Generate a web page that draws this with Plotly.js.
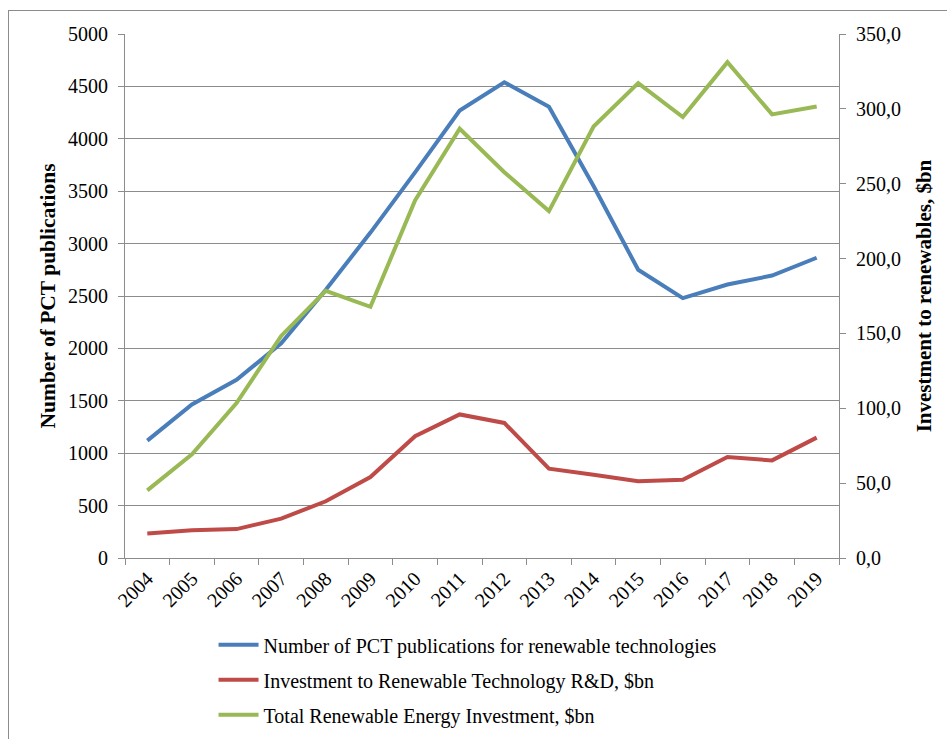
<!DOCTYPE html>
<html><head><meta charset="utf-8">
<script src="https://cdn.plot.ly/plotly-3.0.1.min.js"></script>
<style>
html,body{margin:0;padding:0;overflow:hidden;background:#fff}
#chart{position:absolute;left:0;top:0;width:947px;height:739px}
#frame{position:absolute;left:8px;top:10px;width:1200px;height:1200px;border:1px solid #8c8c8c;pointer-events:none}
</style>
</head><body>
<div id="chart"></div><div id="frame"></div>
<script>
const years = ['2004','2005','2006','2007','2008','2009','2010','2011','2012','2013','2014','2015','2016','2017','2018','2019'];
const pctPublications = [1120, 1465, 1700, 2048, 2560, 3105, 3680, 4270, 4540, 4305, 3550, 2750, 2480, 2610, 2695, 2865];
const rdInvestment = [16.3, 18.5, 19.3, 26.3, 37.9, 54.1, 81.3, 95.9, 90.2, 59.7, 55.6, 51.3, 52.3, 67.4, 65.2, 80.4];
const totalInvestment = [45.2, 69.2, 103.5, 148.3, 178.5, 167.8, 238.8, 286.7, 257.7, 231.7, 288.2, 317.2, 294.5, 331.2, 296.3, 301.6];
const seriesNames = ['Number of PCT publications for renewable technologies', 'Investment to Renewable Technology R&D, $bn', 'Total Renewable Energy Investment, $bn'];
const leftTitle = 'Number of PCT publications';
const rightTitle = 'Investment to renewables, $bn';

const FONT = 'Liberation Serif, Times New Roman, serif';
const GRID = '#8c8c8c';

const traces = [
  {x: years, y: pctPublications, name: seriesNames[0], yaxis: 'y', legendgroup: 'a',
   mode: 'lines', line: {color: '#4A7EBB', width: 4}},
  {x: years, y: rdInvestment, name: seriesNames[1], yaxis: 'y2', legendgroup: 'b',
   mode: 'lines', line: {color: '#BE4B48', width: 4}},
  {x: years, y: totalInvestment, name: seriesNames[2], yaxis: 'y2', legendgroup: 'c',
   mode: 'lines', line: {color: '#98B954', width: 4}}
];

const layout = {
  width: 947, height: 739,
  margin: {l: 125, r: 108, t: 34, b: 181},
  paper_bgcolor: '#fff', plot_bgcolor: '#fff',
  separators: ',.',
  font: {family: FONT, size: 20, color: '#000'},
  showlegend: true,
  legend: {x: 0.124, xanchor: 'left', xref: 'paper', y: 0.154, yanchor: 'top', yref: 'container',
           orientation: 'v', font: {family: FONT, size: 20, color: '#000'}, tracegroupgap: 6,
           itemwidth: 40, bgcolor: 'rgba(0,0,0,0)'},
  xaxis: {type: 'category', range: [-0.5, 15.5], tickangle: -45, showgrid: false, automargin: false,
          showline: true, linecolor: GRID, linewidth: 1, ticks: 'outside', ticklen: 6,
          tickcolor: GRID, tickson: 'boundaries', tickfont: {family: FONT, size: 20},
          zeroline: false, fixedrange: true},
  yaxis: {range: [0, 5000], dtick: 500, tick0: 0, showgrid: true, gridcolor: GRID, gridwidth: 1,
          automargin: false,
          showline: true, linecolor: GRID, linewidth: 1, ticks: 'outside', ticklen: 6, tickcolor: GRID,
          ticklabelstandoff: 6, zeroline: false, tickfont: {family: FONT, size: 20},
          title: {text: '<b>' + leftTitle + '</b>', font: {family: FONT, size: 21.5}, standoff: 6}},
  yaxis2: {range: [0, 350], dtick: 50, tick0: 0, overlaying: 'y', side: 'right', showgrid: false,
           automargin: false,
           showline: true, linecolor: GRID, linewidth: 1, ticks: 'outside', ticklen: 6, tickcolor: GRID,
           ticklabelstandoff: 6, tickformat: '.1f', zeroline: false, tickfont: {family: FONT, size: 20},
           title: {text: '<b>' + rightTitle + '</b>', font: {family: FONT, size: 21}, standoff: 16}}
};

Plotly.newPlot('chart', traces, layout, {staticPlot: true, displayModeBar: false});
</script>
</body></html>
